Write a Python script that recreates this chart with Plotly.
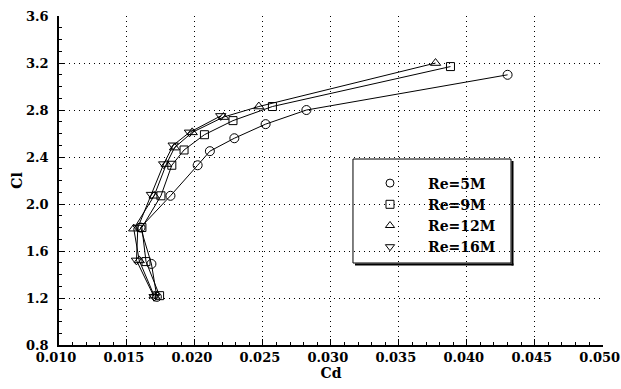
import plotly.graph_objects as go

# Drag polar (Cl vs Cd) at four Reynolds numbers
re5_cd = [0.0172, 0.0168, 0.0160, 0.0182, 0.0202, 0.0211, 0.0229, 0.0252, 0.0282, 0.0430]
re5_cl = [1.21, 1.49, 1.80, 2.07, 2.33, 2.45, 2.56, 2.68, 2.80, 3.10]

re9_cd = [0.0174, 0.0164, 0.0161, 0.0175, 0.0183, 0.0192, 0.0207, 0.0228, 0.0257, 0.0388]
re9_cl = [1.22, 1.51, 1.80, 2.07, 2.33, 2.46, 2.59, 2.71, 2.83, 3.17]

re12_cd = [0.0170, 0.0159, 0.0155, 0.0170, 0.0179, 0.0185, 0.0198, 0.0221, 0.0247, 0.0377]
re12_cl = [1.22, 1.52, 1.79, 2.07, 2.34, 2.48, 2.61, 2.74, 2.83, 3.20]

re16_cd = [0.0170, 0.0157, 0.0158, 0.0168, 0.0177, 0.0184, 0.0196, 0.0219]
re16_cl = [1.21, 1.52, 1.80, 2.08, 2.34, 2.50, 2.61, 2.75]

series_names = ["Re=5M", "Re=9M", "Re=12M", "Re=16M"]
symbols = ["circle-open", "square-open", "triangle-up-open", "triangle-down-open"]
sizes = [9, 8, 9, 9]

x_ticks = [0.010, 0.015, 0.020, 0.025, 0.030, 0.035, 0.040, 0.045, 0.050]
y_ticks = [0.8, 1.2, 1.6, 2.0, 2.4, 2.8, 3.2, 3.6]

FONT = "DejaVu Serif"
tick_font = dict(family=FONT, size=13, color="black", weight="bold")
title_font = dict(family=FONT, size=14, color="black", weight="bold")

fig = go.Figure()
for cd, cl, sym, sz in zip([re5_cd, re9_cd, re12_cd, re16_cd],
                           [re5_cl, re9_cl, re12_cl, re16_cl], symbols, sizes):
    fig.add_trace(go.Scatter(
        x=cd, y=cl, mode="lines+markers", showlegend=False,
        line=dict(color="black", width=1),
        marker=dict(symbol=sym, size=sz, color="black", line=dict(width=1, color="black")),
    ))

# marker-only entries for the legend
for name, sym in zip(series_names, symbols):
    fig.add_trace(go.Scatter(
        x=[None], y=[None], mode="markers", name=name,
        marker=dict(symbol=sym, size=8, color="black", line=dict(width=1, color="black")),
    ))

grid_dash = "1px,4px"

fig.update_xaxes(
    range=[0.010, 0.05002], tickvals=x_ticks, tickformat=".3f",
    ticklabeloverflow="allow", automargin=False, ticklabelshift=-3,
    showline=True, linecolor="black", linewidth=1.5,
    ticks="inside", ticklen=6, tickcolor="black",
    minor=dict(dtick=0.001, tick0=0.010, ticks="inside", ticklen=3, tickcolor="black", showgrid=False),
    showgrid=True, gridcolor="black", gridwidth=1, griddash=grid_dash,
    zeroline=False, tickfont=tick_font,
    title=dict(text="Cd", font=title_font, standoff=0),
)
fig.update_yaxes(
    range=[0.8, 3.6005], tickvals=y_ticks, tickformat=".1f",
    ticklabeloverflow="allow", automargin=False,
    showline=True, linecolor="black", linewidth=1.5,
    ticks="inside", ticklen=6, tickcolor="black",
    minor=dict(dtick=0.1, tick0=0.8, ticks="inside", ticklen=3, tickcolor="black", showgrid=False),
    showgrid=True, gridcolor="black", gridwidth=1, griddash=grid_dash,
    zeroline=False, tickfont=tick_font, ticklabelstandoff=6,
    title=dict(text="Cl", font=title_font, standoff=0),
)

# legend frame with a drop shadow on the right and bottom
L, R, B, T = 0.5404, 0.8309, 0.2492, 0.5653
px_x, px_y = 1 / 544, 1 / 329
shapes = [
    dict(type="rect", xref="paper", yref="paper", x0=L, x1=R, y0=B, y1=T,
         line=dict(color="black", width=1)),
    dict(type="line", xref="paper", yref="paper", x0=R + 1.5 * px_x, x1=R + 1.5 * px_x,
         y0=B - 2.5 * px_y, y1=T - 2 * px_y, line=dict(color="black", width=2)),
    dict(type="line", xref="paper", yref="paper", x0=L + 2 * px_x, x1=R + 2.5 * px_x,
         y0=B - 1.5 * px_y, y1=B - 1.5 * px_y, line=dict(color="black", width=2)),
]

fig.update_layout(
    width=621, height=389,
    margin=dict(l=59, r=18, t=16, b=44, autoexpand=False),
    paper_bgcolor="white", plot_bgcolor="white",
    shapes=shapes,
    legend=dict(
        x=0.5386, y=0.5395, xanchor="left", yanchor="top",
        bgcolor="rgba(0,0,0,0)", borderwidth=0,
        font=dict(family=FONT, size=14, color="black", weight="bold"),
        itemwidth=66, tracegroupgap=0,
    ),
)

fig.write_html("out.html")
